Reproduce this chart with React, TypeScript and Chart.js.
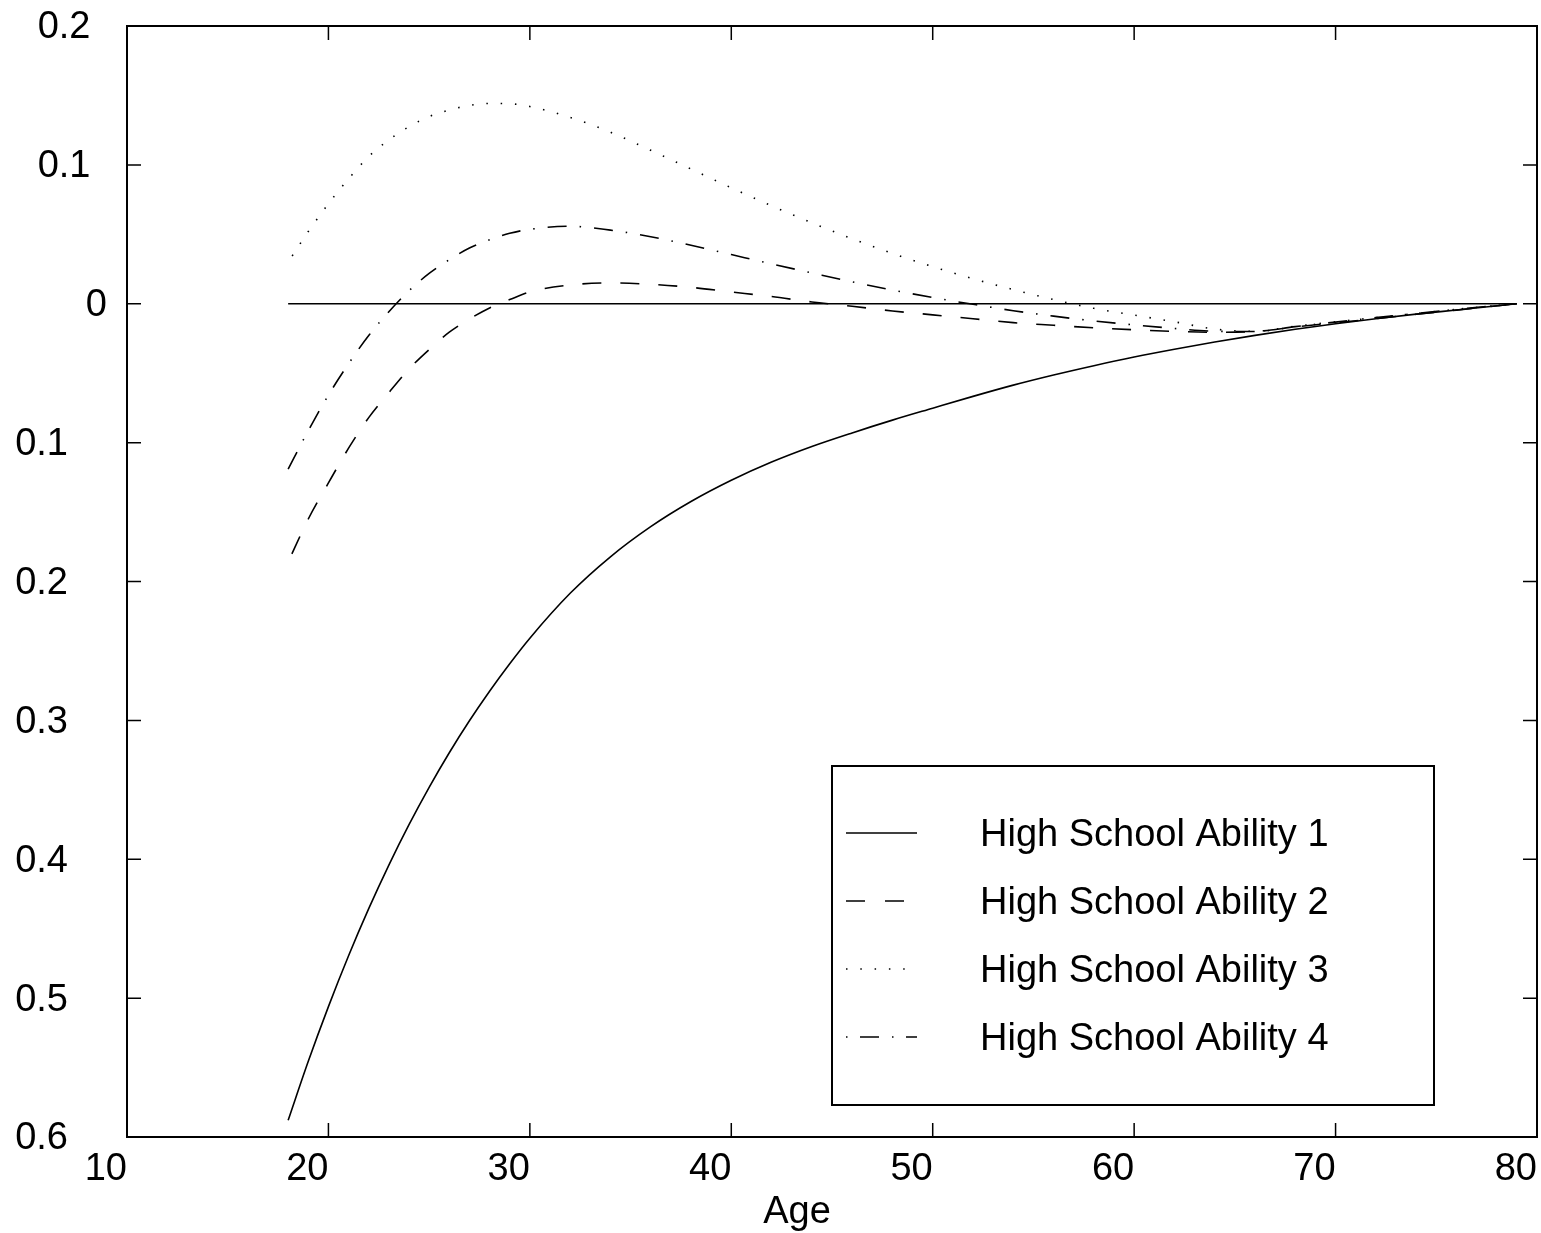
import React, { useEffect, useRef } from "react";
import { Chart, registerables } from "chart.js";

Chart.register(...registerables);

// ---- data ----
const AGES = [18, 19, 20, 21, 22, 23, 24, 25, 26, 27, 28, 29, 30, 32, 34, 36, 38, 40, 42, 44, 46, 48, 50, 52, 54, 56, 58, 60, 62, 64, 66, 68, 70, 72, 74, 76, 79];

const ABILITY_1 = [-0.588, -0.5455, -0.5061, -0.4695, -0.4356, -0.4042, -0.3751, -0.3482, -0.3233, -0.3003, -0.279, -0.2592, -0.2408, -0.2085, -0.1822, -0.1605, -0.1424, -0.1271, -0.114, -0.1028, -0.093, -0.0838, -0.0752, -0.0667, -0.0586, -0.0513, -0.0446, -0.0384, -0.0328, -0.0276, -0.0228, -0.0184, -0.0144, -0.0108, -0.0075, -0.0045, 0];

const ABILITY_2 = [-0.186, -0.155, -0.129, -0.104, -0.082, -0.064, -0.047, -0.033, -0.0205, -0.011, -0.003, 0.003, 0.0085, 0.0135, 0.015, 0.014, 0.0118, 0.0085, 0.0052, 0.0013, -0.0018, -0.0052, -0.008, -0.0108, -0.0136, -0.0155, -0.0173, -0.0187, -0.0199, -0.0205, -0.02, -0.0167, -0.0137, -0.0107, -0.0076, -0.0046, 0];

const ABILITY_3 = [0.03, 0.052, 0.072, 0.09, 0.106, 0.118, 0.1275, 0.1348, 0.1395, 0.1428, 0.1442, 0.144, 0.142, 0.1342, 0.1235, 0.1105, 0.097, 0.0835, 0.0705, 0.0583, 0.0468, 0.0362, 0.0267, 0.018, 0.0102, 0.003, -0.0033, -0.0082, -0.013, -0.0182, -0.0198, -0.0162, -0.013, -0.01, -0.007, -0.004, 0];

const ABILITY_4 = [-0.119, -0.0914, -0.0658, -0.0432, -0.0229, -0.0057, 0.0094, 0.0218, 0.0317, 0.0401, 0.046, 0.0507, 0.0536, 0.0558, 0.053, 0.0483, 0.0421, 0.0354, 0.0287, 0.0222, 0.0158, 0.0099, 0.0045, -0.0004, -0.005, -0.0089, -0.0124, -0.0152, -0.0178, -0.0198, -0.02, -0.0165, -0.0132, -0.01, -0.007, -0.004, 0];

const ZERO_AGES = [18, 79];
const ZERO_VALUES = [0, 0];

const SERIES_LABELS = [
  "High School Ability 1",
  "High School Ability 2",
  "High School Ability 3",
  "High School Ability 4",
];

const X_TICKS = [10, 20, 30, 40, 50, 60, 70, 80];
const X_TICK_LABELS = ["10", "20", "30", "40", "50", "60", "70", "80"];
const Y_TICKS = [0.2, 0.1, 0, -0.1, -0.2, -0.3, -0.4, -0.5, -0.6];
const Y_TICK_LABELS = ["0.2", "0.1", "0", "0.1", "0.2", "0.3", "0.4", "0.5", "0.6"];
const X_TITLE = "Age";

// ---- styles ----
const FONT = '38px "Liberation Sans", Arial, Helvetica, sans-serif';
const DASHES: number[][] = [[], [19, 19], [1.5, 12.8], [19, 13, 1.5, 13]];
const DASH_OFFSETS = [0, 29, 7, 0];
const LEGEND_DASHES: number[][] = [[], [19, 20], [1.5, 12.8], [1.5, 12.5, 19, 13]];

const toPoints = (xs: number[], ys: number[]) => xs.map((x, i) => ({ x, y: ys[i] }));

const framePlugin = {
  id: "frameAndLegend",
  afterDraw(chart: any) {
    const { ctx, chartArea, scales } = chart;
    const xs = scales.x;
    const ys = scales.y;
    const { left, right, top, bottom } = chartArea;
    ctx.save();
    ctx.strokeStyle = "#000";
    ctx.fillStyle = "#000";

    // frame
    ctx.lineWidth = 2;
    ctx.setLineDash([]);
    ctx.strokeRect(left, top, right - left, bottom - top);

    // inward ticks
    ctx.lineWidth = 1.5;
    const tl = 14;
    ctx.beginPath();
    X_TICKS.forEach((v) => {
      const px = xs.getPixelForValue(v);
      ctx.moveTo(px, bottom);
      ctx.lineTo(px, bottom - tl);
      ctx.moveTo(px, top);
      ctx.lineTo(px, top + tl);
    });
    Y_TICKS.forEach((v) => {
      const py = ys.getPixelForValue(v);
      ctx.moveTo(left, py);
      ctx.lineTo(left + tl, py);
      ctx.moveTo(right, py);
      ctx.lineTo(right - tl, py);
    });
    ctx.stroke();

    // tick labels
    ctx.font = FONT;
    ctx.textBaseline = "middle";
    ctx.textAlign = "right";
    X_TICKS.forEach((v, i) => {
      const px = xs.getPixelForValue(v);
      ctx.fillText(X_TICK_LABELS[i], px, bottom + 33);
    });
    Y_TICKS.forEach((v, i) => {
      const py = ys.getPixelForValue(v);
      const xr = v > 0 ? left - 36.5 : v === 0 ? left - 20 : left - 59;
      ctx.fillText(Y_TICK_LABELS[i], xr, py + 2);
    });

    // axis title
    ctx.textAlign = "center";
    ctx.textBaseline = "alphabetic";
    ctx.fillText(X_TITLE, 797, 1223);

    // legend
    const bx = 832, by = 766, bw = 602, bh = 339;
    ctx.fillStyle = "#fff";
    ctx.fillRect(bx, by, bw, bh);
    ctx.fillStyle = "#000";
    ctx.lineWidth = 2;
    ctx.strokeRect(bx, by, bw, bh);
    SERIES_LABELS.forEach((label, i) => {
      const y = 833 + i * 68;
      ctx.lineWidth = 1.6;
      ctx.setLineDash(LEGEND_DASHES[i]);
      ctx.lineDashOffset = 0;
      ctx.beginPath();
      ctx.moveTo(846, y);
      ctx.lineTo(917, y);
      ctx.stroke();
      ctx.setLineDash([]);
      ctx.textAlign = "left";
      ctx.textBaseline = "middle";
      ctx.fillText(label, 980, y + 2.5);
    });
    ctx.restore();
  },
};

export default function App() {
  const canvasRef = useRef<HTMLCanvasElement | null>(null);

  useEffect(() => {
    const canvas = canvasRef.current;
    if (!canvas) return;
    const series = [ABILITY_1, ABILITY_2, ABILITY_3, ABILITY_4];
    const datasets: any[] = series.map((vals, i) => ({
      label: SERIES_LABELS[i],
      data: toPoints(AGES, vals),
      borderColor: "#000",
      backgroundColor: "#000",
      borderWidth: 1.6,
      borderDash: DASHES[i],
      borderDashOffset: DASH_OFFSETS[i],
      pointRadius: 0,
      fill: false,
      cubicInterpolationMode: "monotone",
    }));
    datasets.push({
      label: "zero",
      data: toPoints(ZERO_AGES, ZERO_VALUES),
      borderColor: "#000",
      borderWidth: 1.6,
      pointRadius: 0,
      fill: false,
    });

    const chart = new Chart(canvas, {
      type: "line",
      data: { datasets },
      options: {
        responsive: false,
        maintainAspectRatio: false,
        devicePixelRatio: 1,
        animation: false,
        layout: { padding: { left: 127, right: 4, top: 26, bottom: 96 } },
        plugins: { legend: { display: false }, tooltip: { enabled: false }, title: { display: false } },
        scales: {
          x: { type: "linear", min: 10, max: 80, display: false },
          y: { type: "linear", min: -0.6, max: 0.2, display: false },
        },
      },
      plugins: [framePlugin],
    } as any);
    return () => chart.destroy();
  }, []);

  return (
    <div style={{ position: "absolute", left: 0, top: 0, width: 1541, height: 1233, background: "#fff" }}>
      <canvas ref={canvasRef} width={1541} height={1233} style={{ display: "block" }} />
    </div>
  );
}
